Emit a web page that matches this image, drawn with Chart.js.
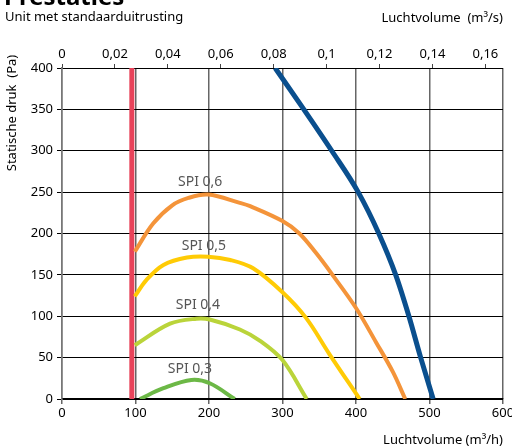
<!DOCTYPE html>
<html><head><meta charset="utf-8">
<script src="https://cdn.jsdelivr.net/npm/chart.js@4/dist/chart.umd.min.js"></script>
<style>html,body{margin:0;padding:0;background:#fff}#wrap{width:512px;height:448px}</style>
</head><body><div id="wrap"><canvas id="c" width="512" height="448"></canvas></div>
<script>
const xTicksM3h = [0,100,200,300,400,500,600];
const yTicksPa = [0,50,100,150,200,250,300,350,400];
const topTicksM3s = [0,0.02,0.04,0.06,0.08,0.1,0.12,0.14,0.16];

const limitX = [95,95];
const limitY = [0,400];

const fanX = [290,329,367,403,431,454,472,488,505];
const fanY = [400,350,300,250,200,150,100,50,0];

const spi06X = [99,124,150,172,199,242,256,300,323,346,368,400,427,450,467];
const spi06Y = [178,212,234,243,247,237,233,215,200,176,150,110,69,33,0];

const spi05X = [99,115,138,170,199,229,260,300,332,364,405];
const spi05Y = [124,144,162,171,172,168,158,129,98,54,0];

const spi04X = [99,147,183,201,242,270,300,333];
const spi04Y = [65,91,97,96,84,70,47,0];

const spi03X = [106,138,176,201,235];
const spi03Y = [0,13,23,19,0];

const spiLabels = ["SPI 0,6","SPI 0,5","SPI 0,4","SPI 0,3"];
const spiLabelX = [188,193,185,174];
const spiLabelY = [262,185,114,36];

const FONT = "'Noto Sans', 'Open Sans', sans-serif";
const pts = (xs, ys) => xs.map((x,i)=>({x:x,y:ys[i]}));

const overlay = {
  id:'overlay',
  afterDatasetsDraw(chart){
    const ctx = chart.ctx, xs = chart.scales.x, ys = chart.scales.y;
    ctx.save();
    ctx.fillStyle = '#555';
    ctx.font = '14px ' + FONT;
    ctx.textAlign = 'center'; ctx.textBaseline = 'middle';
    spiLabels.forEach((t,i)=>ctx.fillText(t, xs.getPixelForValue(spiLabelX[i]), ys.getPixelForValue(spiLabelY[i])));
    ctx.restore();
  },
  afterDraw(chart){
    const ctx = chart.ctx;
    ctx.save();
    ctx.fillStyle = '#000';
    ctx.font = 'bold 24px ' + FONT;
    ctx.textAlign = 'left'; ctx.textBaseline = 'alphabetic';
    ctx.fillText('Prestaties', 4, 5);
    ctx.font = '13px ' + FONT;
    ctx.textBaseline = 'middle';
    ctx.fillText('Unit met standaarduitrusting', 5, 17);
    ctx.textAlign = 'right';
    ctx.fillText('Luchtvolume  (m³/s)', 503, 18);
    ctx.fillText('Luchtvolume (m³/h)', 503, 440);
    ctx.translate(12, 113);
    ctx.rotate(-Math.PI/2);
    ctx.textAlign = 'center';
    ctx.fillText('Statische druk  (Pa)', 0, 0);
    ctx.restore();
  }
};

const line = (data, color, w) => ({data, borderColor:color, borderWidth:w, pointRadius:0, tension:0.35, fill:false, borderCapStyle:'butt', xAxisID:'x', yAxisID:'y'});

new Chart(document.getElementById('c'), {
  type:'line',
  data:{datasets:[
    line(pts(spi03X,spi03Y), '#6cb846', 4),
    line(pts(spi04X,spi04Y), '#bad43a', 4),
    line(pts(spi05X,spi05Y), '#ffcb05', 4),
    line(pts(spi06X,spi06Y), '#f4943a', 4),
    Object.assign(line(pts(fanX,fanY), '#0a4f8e', 5), {tension:0, cubicInterpolationMode:'monotone'}),
    Object.assign(line(pts(limitX,limitY), '#e8435a', 5), {tension:0})
  ]},
  options:{
    responsive:false, animation:false,
    layout:{padding:{left:0,right:9,top:0,bottom:0}},
    plugins:{legend:{display:false}, tooltip:{enabled:false}},
    scales:{
      x:{type:'linear', position:'bottom', min:0, max:600,
        afterBuildTicks(s){ s.ticks = xTicksM3h.map(v=>({value:v})); },
        afterFit(s){ s.height = 49; s.paddingRight = 0; s.paddingLeft = 0; },
        grid:{color:'#666', lineWidth:1.5, tickLength:5},
        border:{color:'#000', width:1.2},
        ticks:{color:'#000', font:{size:13, family:FONT}, padding:1}
      },
      x2:{type:'linear', position:'top', min:0, max:600/3600,
        afterBuildTicks(s){ s.ticks = topTicksM3s.map(v=>({value:v})); },
        afterFit(s){ s.height = 68; s.paddingRight = 0; s.paddingLeft = 0; },
        grid:{drawOnChartArea:false, color:'#444', lineWidth:1, tickLength:4},
        border:{display:false},
        ticks:{color:'#000', font:{size:13, family:FONT}, padding:2,
          callback:(v)=>String(Math.round(v*100)/100).replace('.',',')}
      },
      y:{type:'linear', position:'left', min:0, max:400,
        afterBuildTicks(s){ s.ticks = yTicksPa.map(v=>({value:v})); },
        afterFit(s){ s.width = 62; s.paddingTop = 0; s.paddingBottom = 0; },
        grid:{color:'#000', lineWidth:1, tickLength:5},
        border:{color:'#777', width:1.5},
        ticks:{color:'#000', font:{size:13, family:FONT}, padding:4}
      }
    }
  },
  plugins:[overlay]
});
</script></body></html>
